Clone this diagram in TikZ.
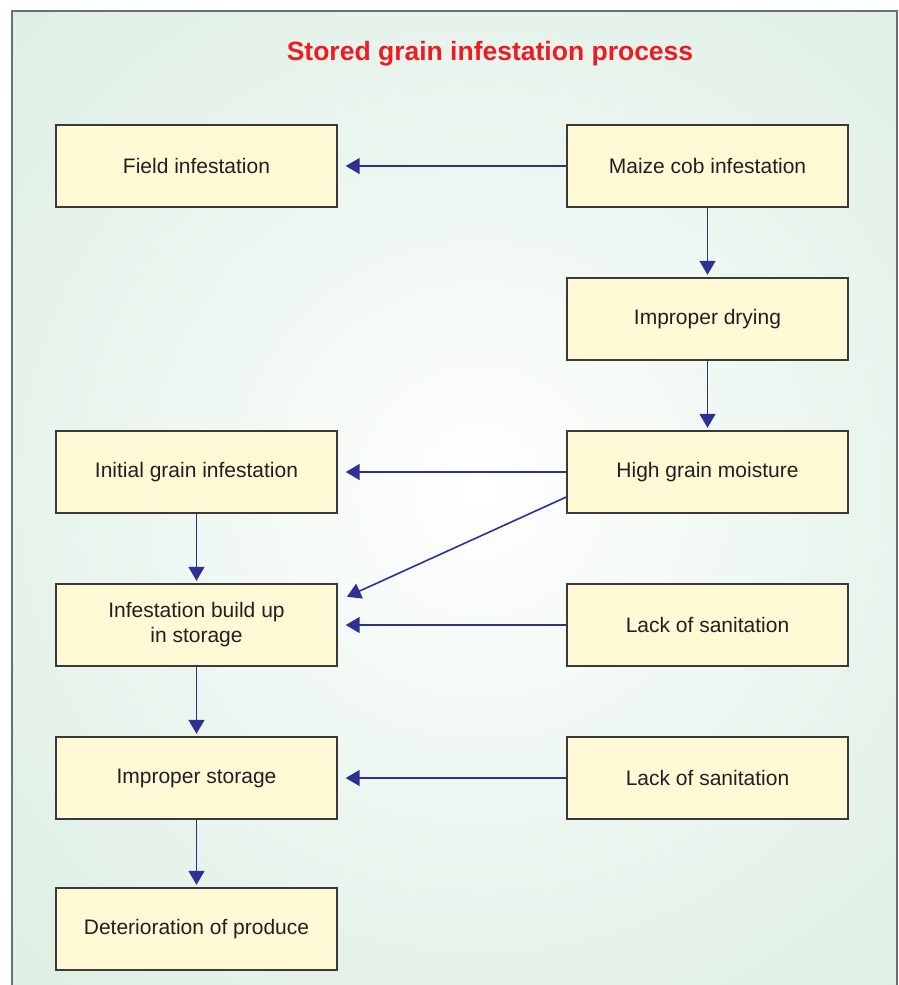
\documentclass[tikz,border=0pt]{standalone}
\usepackage{fontspec}
\setmainfont{Liberation Sans}
\usetikzlibrary{arrows.meta}
\definecolor{bgmid}{HTML}{EAF5EE}
\definecolor{bgedge}{HTML}{D3EADB}
\definecolor{bggreen}{HTML}{C9E4D2}
\definecolor{boxfill}{HTML}{FFF9D6}
\definecolor{boxline}{HTML}{3A3A3A}
\definecolor{boxtext}{HTML}{231F20}
\definecolor{linkblue}{HTML}{2E3192}
\definecolor{titlered}{HTML}{ED1C24}
\definecolor{framegray}{HTML}{6D6E70}
\pgfdeclareradialshading{bgglow}{\pgfpoint{0bp}{0bp}}{color(0bp)=(white); color(14bp)=(bgmid); color(33bp)=(bgedge); color(50bp)=(bggreen)}
\begin{document}
\begin{tikzpicture}[x=1pt,y=-1pt,
	box/.style={draw=boxline,line width=1.4pt,fill=boxfill,minimum width=281pt,minimum height=82pt,inner sep=0pt,align=center,text=boxtext,font=\fontsize{21}{25}\selectfont},
	link/.style={-{Triangle[length=14pt,width=16pt]},draw=linkblue,line width=1.6pt,shorten >=8pt}]
	\def\xl{196.5} % left column
	\def\xr{707.5} % right column
	\useasboundingbox (0,0) rectangle (898,985);
	% background
	\begin{scope}
		\clip (12,11) rectangle (897,1000);
		\shade[shading=bgglow] (480,490) circle (680pt);
	\end{scope}
	\draw[framegray,line width=1.2pt] (12,1000) -- (12,11) -- (897,11) -- (897,1000);
	\node[text=titlered,font=\fontsize{26.5}{30}\selectfont\bfseries] (title) at (490,54) {Stored grain infestation process};
	% right column
	\node[box] (maize) at (\xr,166) {Maize cob infestation};
	\node[box] (drying) at (\xr,319) {Improper drying};
	\node[box] (moisture) at (\xr,472) {High grain moisture};
	\node[box] (sanitA) at (\xr,625) {Lack of sanitation};
	\node[box] (sanitB) at (\xr,778) {Lack of sanitation};
	% left column
	\node[box] (field) at (\xl,166) {Field infestation};
	\node[box] (initial) at (\xl,472) {Initial grain infestation};
	\node[box] (buildup) at (\xl,625) {Infestation build up\\in storage};
	\node[box] (storage) at (\xl,778) {Improper storage};
	\node[box] (deter) at (\xl,929) {Deterioration of produce};
	% links
	\draw[link] (maize.west) -- (field.east);
	\draw[link,shorten >=2.5pt] (maize.south) -- (drying.north);
	\draw[link,shorten >=2.5pt] (drying.south) -- (moisture.north);
	\draw[link] (moisture.west) -- (initial.east);
	\draw[link,shorten >=10pt] ([yshift=-25pt]moisture.west) -- ([yshift=24pt]buildup.east);
	\draw[link] (sanitA.west) -- (buildup.east);
	\draw[link,shorten >=2.5pt] (initial.south) -- (buildup.north);
	\draw[link,shorten >=2.5pt] (buildup.south) -- (storage.north);
	\draw[link] (sanitB.west) -- (storage.east);
	\draw[link,shorten >=2.5pt] (storage.south) -- (deter.north);
\end{tikzpicture}
\end{document}
